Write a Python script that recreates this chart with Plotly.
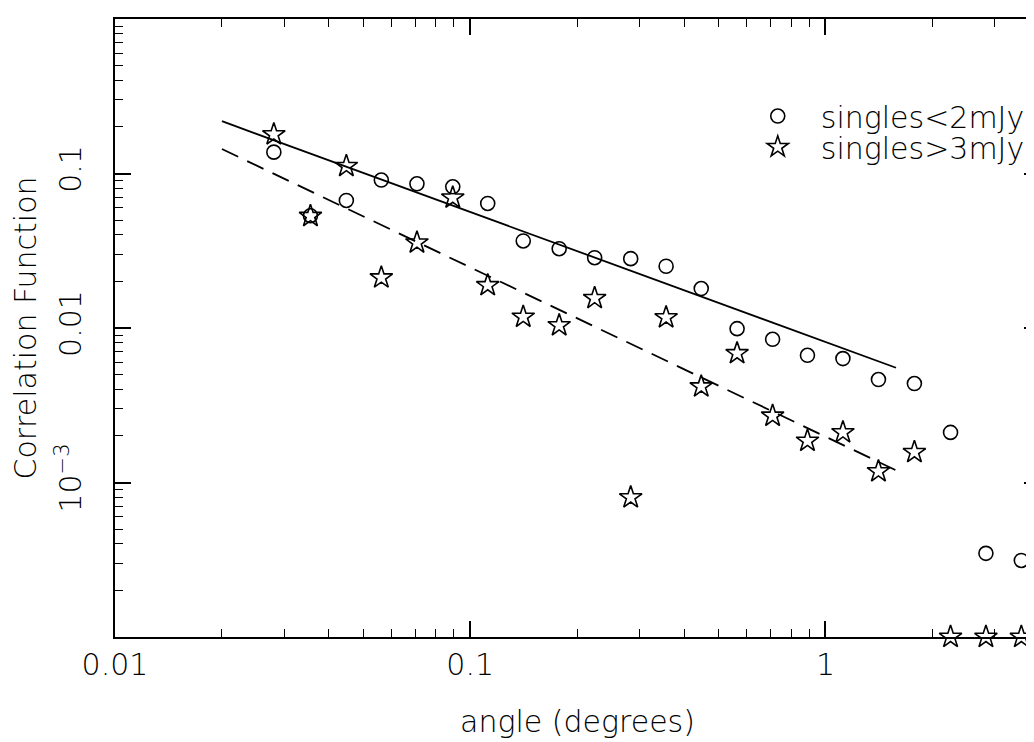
import plotly.graph_objects as go

# angular bins (degrees)
angle = [0.028, 0.0355, 0.0448, 0.0562, 0.0708, 0.0893, 0.112, 0.141, 0.178, 0.224,
         0.283, 0.356, 0.447, 0.564, 0.71, 0.89, 1.12, 1.41, 1.78, 2.25, 2.83, 3.56]

# w(theta) for faint singles (< 2 mJy)
w_faint = [0.1375, 0.0533, 0.0669, 0.0907, 0.0858, 0.082, 0.064, 0.0366, 0.0326, 0.0285,
           0.0281, 0.0251, 0.018, 0.0099, 0.00845, 0.00666, 0.00634, 0.00464, 0.00437,
           0.00211, 0.000348, 0.000313]

# w(theta) for bright singles (> 3 mJy); floor values sit on the bottom axis
w_bright = [0.179, 0.053, 0.1116, 0.0212, 0.0357, 0.0697, 0.0189, 0.0118, 0.0104, 0.0156,
            0.0008, 0.0117, 0.00418, 0.00686, 0.0027, 0.00186, 0.00211, 0.00118, 0.00157,
            0.0001, 0.0001, 0.0001]

# power-law fits (end points)
fit_x = [0.02, 1.58]
fit_faint = [0.218, 0.00553]
fit_bright = [0.144, 0.0012]

y_tickvals = [1, 0.1, 0.01, 0.001]
y_ticktext = ["1", "0.1", "0.01", "10<sup>\u22123</sup>"]
x_tickvals = [0.01, 0.1, 1]
x_ticktext = ["0.01", "0.1", "1"]

FONT = "DejaVu Sans"
txt = dict(family=FONT, size=30, color="black", weight=200)

fig = go.Figure()
fig.add_trace(go.Scatter(
    x=fit_x, y=fit_faint, mode="lines",
    line=dict(color="black", width=1.8), showlegend=False
))
fig.add_trace(go.Scatter(
    x=fit_x, y=fit_bright, mode="lines",
    line=dict(color="black", width=1.8, dash="18px,10px"), showlegend=False
))
fig.add_trace(go.Scatter(
    x=angle, y=w_faint, mode="markers", name="singles<2mJy", legend="legend",
    marker=dict(symbol="circle-open", size=14, color="black", line=dict(width=1.6)),
    cliponaxis=False
))
fig.add_trace(go.Scatter(
    x=angle, y=w_bright, mode="markers", name="singles>3mJy", legend="legend2",
    marker=dict(symbol="star-open", size=17, color="black", line=dict(width=1.6)),
    cliponaxis=False
))

axis_common = dict(
    type="log", showgrid=False, zeroline=False,
    showline=True, linecolor="black", linewidth=1.8, mirror="ticks",
    ticks="inside", ticklen=16, tickwidth=1.6, tickcolor="black",
    tickfont=txt,
    minor=dict(ticks="inside", ticklen=8, tickwidth=1.4, tickcolor="black",
               dtick="D1", showgrid=False),
)

fig.update_xaxes(
    **axis_common,
    range=[-2, 0.604],
    tickmode="array", tickvals=x_tickvals, ticktext=x_ticktext,
    title=dict(text="angle (degrees)", font=txt, standoff=30),
)
fig.update_yaxes(
    **axis_common,
    range=[-4, 0],
    tickmode="array", tickvals=y_tickvals, ticktext=y_ticktext,
    tickangle=-90, ticklabelstandoff=20,
    title=dict(text="Correlation Function", font=txt, standoff=8),
)

leg = dict(xanchor="left", yanchor="middle", bgcolor="rgba(0,0,0,0)",
           font=txt, itemwidth=76)

fig.update_layout(
    width=1034, height=742,
    margin=dict(l=107, r=2, t=11, b=113, autoexpand=False),
    paper_bgcolor="white", plot_bgcolor="white",
    font=dict(family=FONT, color="black"),
    legend=dict(x=0.670, y=0.843, **leg),
    legend2=dict(x=0.670, y=0.793, **leg),
)

fig.write_html("out.html")
